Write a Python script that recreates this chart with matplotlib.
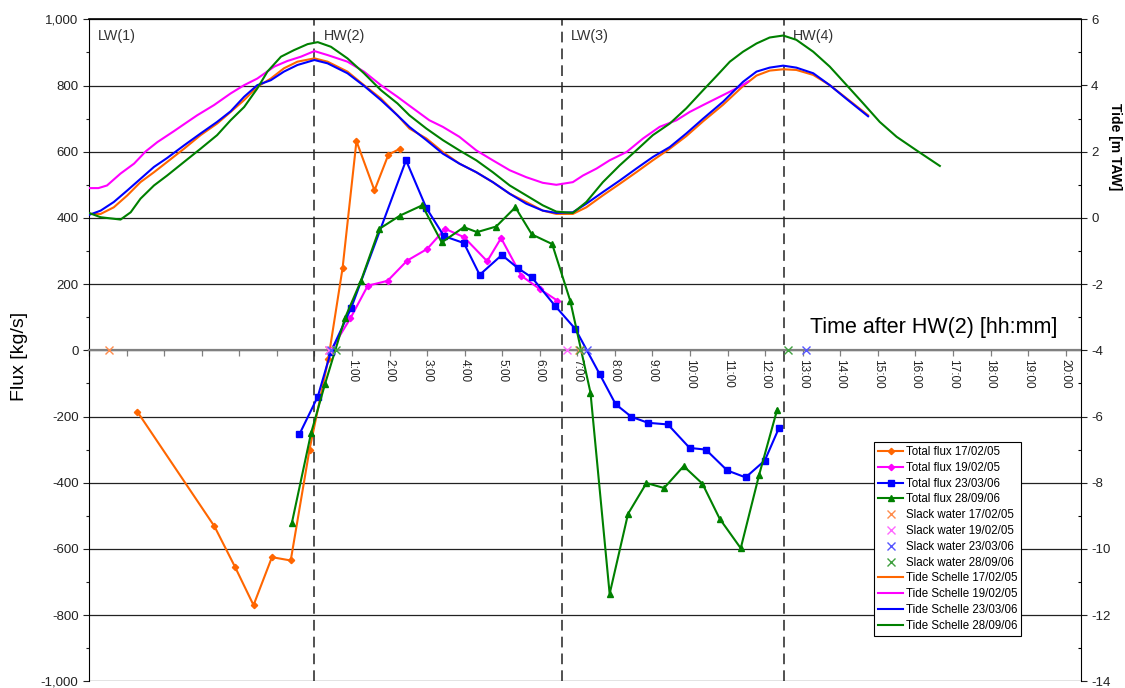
import matplotlib
matplotlib.use('Agg')
import matplotlib.pyplot as plt
from matplotlib.ticker import MultipleLocator, FuncFormatter

plt.rcParams['font.family'] = ['Liberation Sans', 'DejaVu Sans']
plt.rcParams['axes.unicode_minus'] = False

# ---- data (time in hours after HW(2)) ----
dates = ['17/02/05', '19/02/05', '23/03/06', '28/09/06']
colors = ['#FF6600', '#FF00FF', '#0000FF', '#008000']
slack_colors = ['#FF8C4C', '#FF66FF', '#5555FF', '#40A040']
markers = ['D', 'D', 's', '^']
marker_sizes = [3.2, 3.2, 4.5, 5]

t_flux_170205 = [-4.71, -2.66, -2.11, -1.62, -1.13, -0.63, -0.13, 0.37, 0.75, 1.12, 1.60, 1.97, 2.28]
flux_170205 = [-186, -532, -655, -770, -625, -635, -300, -27, 248, 632, 483, 591, 609]

t_flux_190205 = [0.44, 0.96, 1.42, 1.95, 2.47, 3.00, 3.48, 3.98, 4.60, 4.97, 5.51, 6.00, 6.47]
flux_190205 = [0, 97, 195, 210, 271, 306, 367, 342, 269, 339, 225, 185, 150]

t_flux_230306 = [-0.40, 0.09, 0.44, 0.98, 2.44, 2.98, 3.45, 3.98, 4.40, 4.99, 5.42, 5.79, 6.41,
                 6.95, 7.59, 8.02, 8.44, 8.88, 9.41, 9.99, 10.42, 10.99, 11.48, 11.99, 12.37]
flux_230306 = [-254, -140, -4, 128, 574, 430, 345, 324, 228, 288, 248, 220, 134,
               64, -71, -163, -201, -219, -224, -295, -300, -363, -384, -333, -234]

t_flux_280906 = [-0.60, -0.09, 0.28, 0.82, 1.24, 1.73, 2.28, 2.87, 3.39, 3.98, 4.33, 4.84, 5.35, 5.79,
                 6.33, 6.81, 7.35, 7.86, 8.35, 8.84, 9.31, 9.83, 10.33, 10.79, 11.35, 11.84, 12.32]
flux_280906 = [-522, -251, -103, 99, 210, 367, 407, 438, 326, 372, 357, 374, 432, 350,
               321, 150, -128, -736, -494, -401, -416, -350, -403, -509, -598, -376, -179]

slack_170205 = [-5.46, 0.38, 7.04]
slack_190205 = [0.40, 6.72]
slack_230306 = [0.44, 7.27, 13.10]
slack_280906 = [0.58, 7.08, 12.60]

t_tide_170205 = [-6.0, -5.69, -5.34, -4.98, -4.63, -4.27, -3.92, -3.47, -3.03, -2.59, -2.23, -1.87, -1.52,
                 -1.16, -0.81, -0.45, 0.0, 0.35, 0.88, 1.32, 1.77, 2.21, 2.53, 2.98, 3.42, 3.86, 4.31,
                 4.75, 5.20, 5.64, 6.08, 6.44, 6.88, 7.24, 7.68, 8.13, 8.57, 9.01, 9.46, 9.90, 10.35,
                 10.88, 11.41, 11.77, 12.12, 12.48, 12.83, 13.28, 13.72, 14.17, 14.74]
tide_170205 = [0.12, 0.12, 0.32, 0.68, 1.08, 1.38, 1.69, 2.09, 2.50, 2.85, 3.20, 3.56, 3.96,
               4.21, 4.52, 4.72, 4.82, 4.72, 4.42, 4.01, 3.61, 3.10, 2.70, 2.40, 1.99, 1.64, 1.38,
               1.08, 0.73, 0.48, 0.22, 0.12, 0.12, 0.32, 0.68, 1.03, 1.38, 1.74, 2.09, 2.47, 2.92,
               3.42, 3.98, 4.30, 4.45, 4.49, 4.47, 4.32, 4.01, 3.61, 3.10]

t_tide_190205 = [-6.0, -5.75, -5.52, -5.16, -4.80, -4.49, -4.18, -3.74, -3.38, -3.12, -2.67, -2.23, -1.87,
                 -1.52, -1.07, -0.72, -0.36, 0.0, 0.35, 0.88, 1.32, 1.77, 2.21, 2.53, 3.06, 3.42, 3.86,
                 4.31, 4.75, 5.20, 5.64, 6.08, 6.44, 6.88, 7.15, 7.51, 7.86, 8.31, 8.75, 9.19, 9.64,
                 9.99, 10.35, 10.88, 11.32, 11.55]
tide_190205 = [0.90, 0.90, 0.98, 1.34, 1.64, 2.01, 2.29, 2.62, 2.90, 3.10, 3.41, 3.76, 4.01,
               4.21, 4.57, 4.74, 4.87, 5.04, 4.92, 4.72, 4.42, 4.01, 3.66, 3.39, 2.95, 2.75, 2.45,
               2.04, 1.74, 1.44, 1.23, 1.06, 1.00, 1.08, 1.28, 1.49, 1.74, 1.99, 2.40, 2.75, 2.95,
               3.20, 3.41, 3.71, 3.96, 4.12]

t_tide_230306 = [-6.0, -5.69, -5.34, -4.98, -4.63, -4.27, -3.92, -3.47, -3.03, -2.59, -2.23, -1.87, -1.52,
                 -1.16, -0.81, -0.45, 0.0, 0.35, 0.88, 1.32, 1.77, 2.21, 2.53, 2.98, 3.42, 3.86, 4.31,
                 4.75, 5.20, 5.64, 6.08, 6.44, 6.88, 7.24, 7.68, 8.13, 8.57, 9.01, 9.46, 9.90, 10.35,
                 10.88, 11.41, 11.77, 12.12, 12.48, 12.83, 13.28, 13.72, 14.17, 14.74]
tide_230306 = [0.09, 0.22, 0.48, 0.83, 1.18, 1.54, 1.81, 2.19, 2.55, 2.90, 3.22, 3.66, 4.01,
               4.16, 4.42, 4.62, 4.77, 4.67, 4.37, 3.99, 3.56, 3.10, 2.75, 2.35, 1.94, 1.64, 1.38,
               1.08, 0.73, 0.43, 0.22, 0.15, 0.17, 0.43, 0.78, 1.13, 1.49, 1.84, 2.14, 2.55, 3.00,
               3.51, 4.11, 4.42, 4.54, 4.60, 4.54, 4.37, 4.01, 3.59, 3.07]

t_tide_280906 = [-6.0, -5.69, -5.16, -4.89, -4.63, -4.27, -3.92, -3.47, -3.03, -2.59, -2.23, -1.87, -1.52,
                 -1.25, -0.89, -0.54, -0.18, 0.09, 0.44, 0.88, 1.32, 1.77, 2.21, 2.53, 2.98, 3.42, 3.86,
                 4.31, 4.75, 5.20, 5.64, 6.08, 6.44, 6.88, 7.24, 7.68, 8.13, 8.57, 9.01, 9.46, 9.90,
                 10.35, 10.70, 11.06, 11.41, 11.77, 12.12, 12.48, 12.83, 13.28, 13.72, 14.17, 14.61,
                 15.05, 15.50, 16.03, 16.65]
tide_280906 = [0.15, 0.02, -0.05, 0.17, 0.58, 0.98, 1.28, 1.69, 2.09, 2.50, 2.95, 3.35, 3.91,
               4.42, 4.87, 5.07, 5.25, 5.31, 5.17, 4.82, 4.37, 3.86, 3.46, 3.10, 2.70, 2.35, 2.04,
               1.74, 1.38, 0.98, 0.68, 0.38, 0.19, 0.15, 0.48, 1.08, 1.59, 2.04, 2.50, 2.85, 3.31,
               3.86, 4.28, 4.72, 5.02, 5.27, 5.45, 5.51, 5.38, 5.02, 4.57, 4.01, 3.46,
               2.90, 2.45, 2.04, 1.57]

event_times = [0.0, 6.59, 12.49]
event_labels = ['LW(1)', 'HW(2)', 'LW(3)', 'HW(4)']
event_label_x = [-5.76, 0.24, 6.83, 12.74]

flux_t = [t_flux_170205, t_flux_190205, t_flux_230306, t_flux_280906]
flux_v = [flux_170205, flux_190205, flux_230306, flux_280906]
slack_t = [slack_170205, slack_190205, slack_230306, slack_280906]
tide_t = [t_tide_170205, t_tide_190205, t_tide_230306, t_tide_280906]
tide_v = [tide_170205, tide_190205, tide_230306, tide_280906]

# ---- figure ----
fig = plt.figure(figsize=(11.25, 6.88), dpi=100)
ax = fig.add_axes([89 / 1125, 6.7 / 688, 991.7 / 1125, 662 / 688])
ax2 = ax.twinx()

ax.set_xlim(-6, 20.4)
ax.set_ylim(-1000, 1000)
ax2.set_ylim(-14, 6)

ax.set_yticks(range(-1000, 1001, 200))
ax.yaxis.set_minor_locator(MultipleLocator(100))
ax.yaxis.set_major_formatter(FuncFormatter(lambda v, p: f'{int(v):,}'))
ax.grid(True, axis='y', color='#222222', lw=0.9)
ax.tick_params(axis='y', which='major', length=4, width=0.8, labelsize=9.5, colors='#222222')
ax.tick_params(axis='y', which='minor', length=2.5, width=0.8, colors='#222222')

ax.spines['top'].set_visible(False)
ax.spines['right'].set_visible(False)
ax.spines['left'].set_color('black')
ax.spines['bottom'].set_position(('data', 0))
ax.spines['bottom'].set_color('#808080')
ax.spines['bottom'].set_linewidth(1.6)

ax.set_xticks(range(-6, 21))
ax.xaxis.set_major_formatter(FuncFormatter(lambda v, p: f'{int(v)}:00' if v >= 1 else ''))
ax.tick_params(axis='x', length=4, width=0.9, color='#808080', labelsize=8.5, pad=2,
               labelrotation=270, labelcolor='#222222')
for lab in ax.get_xticklabels():
    lab.set_verticalalignment('top')

ax2.yaxis.set_major_locator(MultipleLocator(2))
ax2.yaxis.set_minor_locator(MultipleLocator(1))
ax2.tick_params(axis='y', which='major', length=4, width=0.8, labelsize=9.5, colors='#222222')
ax2.tick_params(axis='y', which='minor', direction='in', length=2.5, width=0.8)
for s in ['top', 'left', 'bottom']:
    ax2.spines[s].set_visible(False)
ax2.spines['right'].set_color('black')
ax2.set_ylabel('Tide [m TAW]', rotation=270, fontsize=10, fontweight='bold', va='center')
ax2.yaxis.set_label_coords(1.0346, 0.807)

# event lines and labels
for t in event_times:
    ax.axvline(t, color='#222222', lw=1.1, ls=(0, (7, 4)))
ax.axhline(1000, color='black', lw=1.2, clip_on=False)
for x, lab in zip(event_label_x, event_labels):
    ax.text(x, 950, lab, fontsize=10.3, color='#333333', va='center', ha='left')

handles_flux, handles_slack, handles_tide = [], [], []
for i in range(4):
    h, = ax.plot(flux_t[i], flux_v[i], color=colors[i], lw=1.5, marker=markers[i],
                 ms=marker_sizes[i], mec=colors[i], mfc=colors[i], zorder=4,
                 label='Total flux ' + dates[i])
    handles_flux.append(h)
for i in range(4):
    h, = ax.plot(slack_t[i], [0] * len(slack_t[i]), ls='none', marker='x', ms=6, mew=1,
                 color=slack_colors[i], zorder=5, clip_on=False, label='Slack water ' + dates[i])
    handles_slack.append(h)
for i in range(4):
    h, = ax2.plot(tide_t[i], tide_v[i], color=colors[i], lw=1.5, label='Tide Schelle ' + dates[i])
    handles_tide.append(h)

ax.set_ylabel('Flux [kg/s]', fontsize=14, va='center')
ax.yaxis.set_label_coords(-0.0696, 0.491)
ax.text(16.49, 70, 'Time after HW(2) [hh:mm]', fontsize=15.5, ha='center', va='center')

handles = handles_flux + handles_slack + handles_tide
leg = ax2.legend(handles=handles, loc='upper left', bbox_to_anchor=(0.7916, 0.3615),
                 borderaxespad=0, fontsize=8.3, handlelength=2.2, handletextpad=0.2,
                 labelspacing=0.33, borderpad=0.35, fancybox=False, framealpha=1,
                 edgecolor='black')
leg.get_frame().set_linewidth(0.8)

fig.savefig('out.png', dpi=100)
